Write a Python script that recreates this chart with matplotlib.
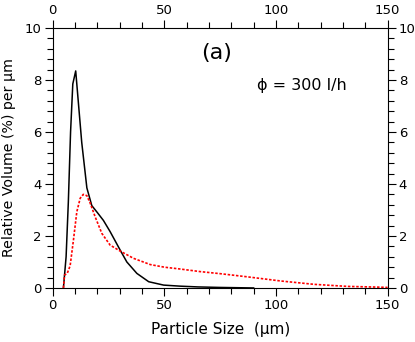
import numpy as np
import matplotlib
matplotlib.use('Agg')
import matplotlib.pyplot as plt
from matplotlib.ticker import MultipleLocator

# black curve (measured)
size_a = [4.8, 6.0, 7.0, 8.0, 9.0, 10.3, 13.0, 15.3, 17.5, 20.0, 22.7, 25.7, 30.2,
          33.2, 37.7, 43.0, 49.7, 57.0, 65.0, 75.0, 90.0]
vol_a = [0.0, 1.2, 3.3, 6.0, 7.85, 8.35, 5.6, 3.85, 3.17, 2.9, 2.6, 2.17, 1.46,
         1.0, 0.56, 0.24, 0.11, 0.07, 0.04, 0.02, 0.0]

# red dotted curve
size_b = [4.8, 5.3, 6.5, 7.8, 9.3, 10.8, 12.3, 13.7, 15.3, 16.8, 19.0, 22.0, 25.7,
          30.2, 36.2, 43.7, 50.0, 57.0, 66.0, 75.0, 87.0, 102.0, 117.0, 132.0, 147.0, 150.0]
vol_b = [0.0, 0.5, 0.56, 0.85, 1.85, 2.93, 3.45, 3.6, 3.55, 3.26, 2.74, 2.1, 1.65,
         1.42, 1.14, 0.9, 0.8, 0.73, 0.63, 0.55, 0.43, 0.27, 0.14, 0.06, 0.03, 0.02]

plt.rcParams['font.family'] = ['DejaVu Sans']

fig = plt.figure(figsize=(4.15, 3.42), dpi=100)
ax = fig.add_axes([0.127, 0.158, 0.807, 0.76])

ax.plot(size_a, vol_a, color='black', lw=1.1)
ax.plot(size_b, vol_b, color='red', lw=1.2, linestyle=(0, (1.5, 1)))

ax.set_xlim(0, 150)
ax.set_ylim(0, 10)
ax.xaxis.set_major_locator(MultipleLocator(50))
ax.xaxis.set_minor_locator(MultipleLocator(10))
ax.yaxis.set_major_locator(MultipleLocator(2))
ax.yaxis.set_minor_locator(MultipleLocator(0.4))
ax.tick_params(which='both', direction='out', top=True, right=True,
               labeltop=True, labelright=True, labelsize=9.5, width=0.8, pad=2)
ax.tick_params(which='major', length=6)
ax.tick_params(which='minor', length=4)
for s in ax.spines.values():
    s.set_linewidth(0.8)

ax.set_xlabel('Particle Size  (\u03bcm)', fontsize=11, labelpad=7)
ax.set_ylabel('Relative Volume (%) per \u03bcm', fontsize=10.2, labelpad=6)

ax.text(0.49, 0.905, '(a)', transform=ax.transAxes, fontsize=16, ha='center', va='center')
ax.text(0.745, 0.78, '\u03d5 = 300 l/h', transform=ax.transAxes, fontsize=11.5, ha='center', va='center')

fig.savefig('out.png', dpi=100)
